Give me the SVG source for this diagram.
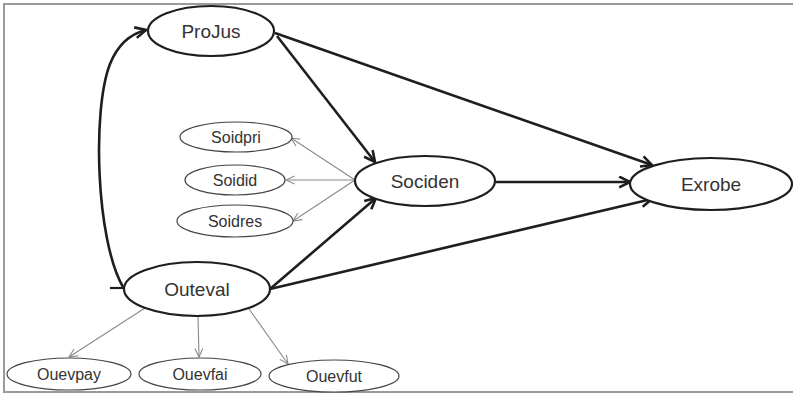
<svg xmlns="http://www.w3.org/2000/svg" width="793" height="394" viewBox="0 0 793 394">
<style>
.main{fill:#fff;stroke:#1e1e1e;stroke-width:2.2}
.small{fill:#fff;stroke:#444;stroke-width:1.2}
.t1{font-family:"Liberation Sans",Arial,sans-serif;font-size:19px;fill:#333;text-anchor:middle}
.t2{font-family:"Liberation Sans",Arial,sans-serif;font-size:16px;fill:#333;text-anchor:middle}
.thick{fill:none;stroke:#1e1e1e;stroke-width:2.6;marker-end:url(#ah)}
.thin{fill:none;stroke:#8a8a8a;stroke-width:1.1;marker-end:url(#ag)}
</style>
<defs>
<marker id="ah" viewBox="0 0 12 12" refX="11" refY="6" markerWidth="13" markerHeight="13" markerUnits="userSpaceOnUse" orient="auto">
<path d="M1,1 L11,6 L1,11" fill="none" stroke="#1e1e1e" stroke-width="2.4"/>
</marker>
<marker id="ag" viewBox="0 0 10 10" refX="9.5" refY="5" markerWidth="10" markerHeight="10" markerUnits="userSpaceOnUse" orient="auto">
<path d="M1,1 L9.5,5 L1,9" fill="none" stroke="#8a8a8a" stroke-width="1.1"/>
</marker>
</defs>
<rect x="4" y="4" width="791" height="388" fill="#fff" stroke="#9a9a9a" stroke-width="2"/>
<g id="connectors">
<path class="thick" d="M277,36 L375,162"/>
<path class="thick" d="M275,33 L652,165"/>
<path class="thick" d="M496,182 L630,182"/>
<path class="thick" d="M270,289 L376,198"/>
<path class="thick" d="M270,289 L652,199"/>
<path class="thick" d="M123,287 C96,240 92,110 110,64 C118,44 130,34 146,30"/>
<path d="M110,288 L124,288" fill="none" stroke="#1e1e1e" stroke-width="2.2"/>
<path class="thin" d="M355,180 L291,138"/>
<path class="thin" d="M355,180 L286,180"/>
<path class="thin" d="M355,180 L293,221"/>
<path class="thin" d="M145,308 L69,357"/>
<path class="thin" d="M198,315 L199,357"/>
<path class="thin" d="M249,309 L288,364"/>
</g>
<g id="ProJus"><ellipse class="main" cx="211" cy="31" rx="63" ry="25"/><text class="t1" x="211" y="38">ProJus</text></g>
<g id="Sociden"><ellipse class="main" cx="425" cy="181" rx="70" ry="25"/><text class="t1" x="425" y="188">Sociden</text></g>
<g id="Exrobe"><ellipse class="main" cx="711" cy="184" rx="81" ry="26"/><text class="t1" x="711" y="191">Exrobe</text></g>
<g id="Outeval"><ellipse class="main" cx="197" cy="289" rx="73" ry="27"/><text class="t1" x="197" y="296">Outeval</text></g>
<g id="Soidpri"><ellipse class="small" cx="236" cy="137" rx="56" ry="15"/><text class="t2" x="236" y="143">Soidpri</text></g>
<g id="Soidid"><ellipse class="small" cx="235" cy="180" rx="50" ry="15"/><text class="t2" x="235" y="186">Soidid</text></g>
<g id="Soidres"><ellipse class="small" cx="235" cy="221" rx="58" ry="16"/><text class="t2" x="235" y="227">Soidres</text></g>
<g id="Ouevpay"><ellipse class="small" cx="69" cy="374" rx="62" ry="16"/><text class="t2" x="69" y="380">Ouevpay</text></g>
<g id="Ouevfai"><ellipse class="small" cx="200" cy="374" rx="61" ry="16"/><text class="t2" x="200" y="380">Ouevfai</text></g>
<g id="Ouevfut"><ellipse class="small" cx="334" cy="376" rx="65" ry="16"/><text class="t2" x="334" y="382">Ouevfut</text></g>
</svg>
